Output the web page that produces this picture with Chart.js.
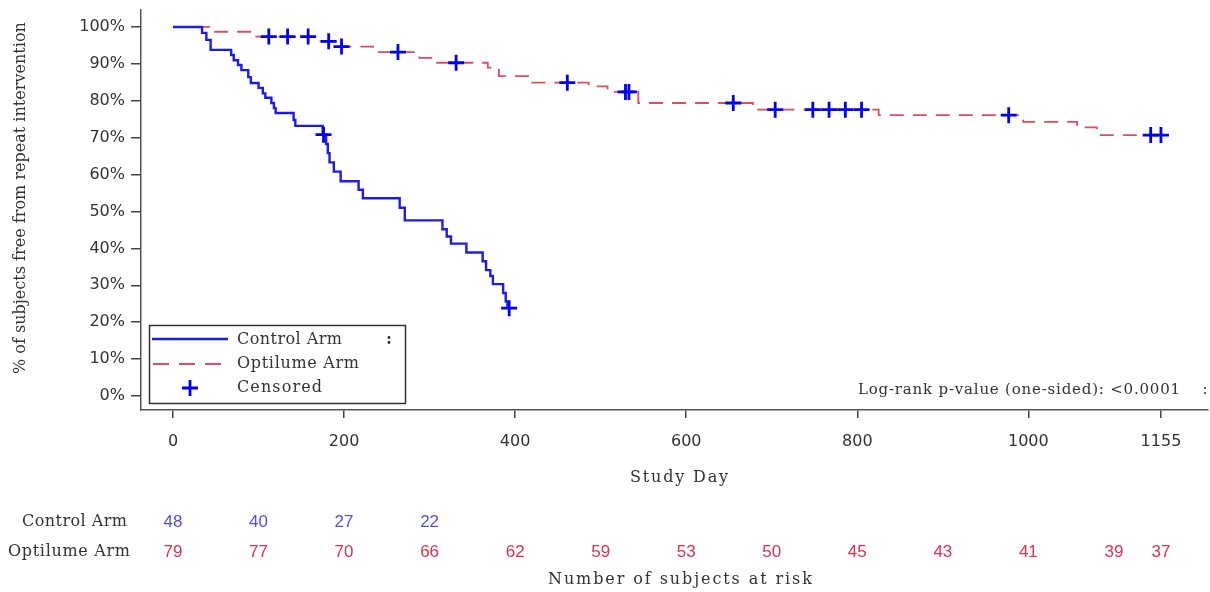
<!DOCTYPE html>
<html><head><meta charset="utf-8">
<script src="https://cdn.jsdelivr.net/npm/chart.js@4/dist/chart.umd.min.js"></script>
<style>html,body{margin:0;padding:0;background:#fff;overflow:hidden}#wrap{width:1210px;height:592px;position:relative}</style>
</head><body><div id="wrap"><canvas id="c" width="1210" height="592"></canvas></div>
<script>
// ---- data ----
const controlDays = [0,34,39,44,68,71,76,80,88,91,100,105,108,115,118,120,141,143,175,179,181,183,188,196,217,222,265,271,315,320,325,343,362,366,371,374,386,389,391,393];
const controlSurv = [100,98.4,96.5,93.8,92.4,91.0,89.7,88.3,86.4,84.8,83.5,82.0,80.8,79.4,78.0,76.7,74.8,73.2,70.8,68.3,65.8,63.3,60.8,58.2,55.9,53.6,51.0,47.6,45.2,43.2,41.3,38.9,36.5,34.1,32.5,30.3,27.9,25.6,23.8,23.8];
const controlCensorDays = [176,393];

const optDays = [0,47,93,169,197,234,288,302,368,381,415,486,508,544,678,825,994,1057,1080,1155];
const optSurv = [100,98.7,97.4,96.1,94.7,93.2,91.6,90.3,89.0,86.7,84.9,83.9,82.4,79.4,77.6,76.1,74.3,72.8,70.7,70.7];
const optCensorDays = [112,134,158,182,197,263,331,461,529,533,655,704,748,767,786,805,977,1143,1155];

const xTickValues = [0,200,400,600,800,1000,1155];
const yTickValues = [0,10,20,30,40,50,60,70,80,90,100];

const riskDays = [0,100,200,300,400,500,600,700,800,900,1000,1100,1155];
const controlRisk = [48,40,27,22];
const optRisk = [79,77,70,66,62,59,53,50,45,43,41,39,37];

const seriesNames = ['Control Arm','Optilume Arm','Censored'];
const riskTitle = 'Number of subjects at risk';
const xTitle = 'Study Day';
const yTitle = '% of subjects free from repeat intervention';
const pText = 'Log-rank p-value (one-sided): <0.0001';

// ---- helpers ----
function stepAt(days, surv, t){ let v = surv[0]; for(let i=0;i<days.length;i++){ if(days[i]<=t) v=surv[i]; } return v; }
const toPts = (d,s)=>d.map((x,i)=>({x:x,y:s[i]}));
const censorPts = controlCensorDays.map(t=>({x:t,y:stepAt(controlDays,controlSurv,t)}))
  .concat(optCensorDays.map(t=>({x:t,y:stepAt(optDays,optSurv,t)})));

const BLUE='#1c1ce8', RED='#e04a62', CBLUE='#0000f5', TXT='#333';
const SERIF='"DejaVu Serif", "Liberation Serif", serif';

function fitText(ctx, text, left, y, width, font){
  ctx.save();
  ctx.font = font;
  ctx.letterSpacing = '0px';
  const w = ctx.measureText(text).width;
  const ls = text.length>1 ? (width - w)/(text.length-1) : 0;
  ctx.letterSpacing = ls.toFixed(2)+'px';
  ctx.textAlign='left'; ctx.textBaseline='middle';
  ctx.fillText(text, left, y);
  ctx.restore();
}

const extras = {
  id:'extras',
  afterDraw(chart){
    const ctx = chart.ctx, xs = chart.scales.x;
    ctx.save();
    ctx.fillStyle = TXT;
    // y title
    ctx.save();
    ctx.translate(21, 198);
    ctx.rotate(-Math.PI/2);
    fitText(ctx, yTitle, -176, 0, 352, '16px '+SERIF);
    ctx.restore();
    // x title
    fitText(ctx, xTitle, 630, 478, 98, '16px '+SERIF);
    // risk table
    fitText(ctx, seriesNames[0], 22, 522, 105, '16px '+SERIF);
    fitText(ctx, seriesNames[1], 8, 552, 122, '16px '+SERIF);
    ctx.font = '17px "Liberation Sans Narrow", "Liberation Sans", sans-serif';
    ctx.textAlign='center'; ctx.textBaseline='middle';
    ctx.fillStyle = '#5050e6';
    controlRisk.forEach((v,i)=>ctx.fillText(String(v), xs.getPixelForValue(riskDays[i]), 522));
    ctx.fillStyle = '#e0304e';
    optRisk.forEach((v,i)=>ctx.fillText(String(v), xs.getPixelForValue(riskDays[i]), 552));
    ctx.fillStyle = TXT;
    fitText(ctx, riskTitle, 548, 580, 264, '16px '+SERIF);
    // p-value
    fitText(ctx, pText, 858, 390, 322, '15px '+SERIF);
    ctx.font = '15px '+SERIF; ctx.textAlign='center'; ctx.textBaseline='middle';
    ctx.fillText(':', 1205, 390);
    // legend box
    ctx.strokeStyle = '#333'; ctx.lineWidth = 1.5;
    ctx.strokeRect(149.5, 325.5, 256, 78);
    ctx.lineWidth = 2.5; ctx.strokeStyle = BLUE;
    ctx.beginPath(); ctx.moveTo(152,339); ctx.lineTo(228,339); ctx.stroke();
    ctx.lineWidth = 1.8; ctx.strokeStyle = RED; ctx.setLineDash([16,10]);
    ctx.beginPath(); ctx.moveTo(153,364); ctx.lineTo(228,364); ctx.stroke();
    ctx.setLineDash([]);
    ctx.lineWidth = 2.8; ctx.strokeStyle = CBLUE;
    ctx.beginPath(); ctx.moveTo(182,388); ctx.lineTo(198,388); ctx.moveTo(190,380); ctx.lineTo(190,396); ctx.stroke();
    ctx.fillStyle = TXT;
    fitText(ctx, seriesNames[0], 237, 340, 105, '16px '+SERIF);
    fitText(ctx, seriesNames[1], 237, 364, 122, '16px '+SERIF);
    fitText(ctx, seriesNames[2], 237, 388, 85, '16px '+SERIF);
    ctx.font = 'bold 16px '+SERIF; ctx.textAlign='center'; ctx.textBaseline='middle';
    ctx.fillText(':', 389, 340);
    ctx.restore();
  }
};

new Chart(document.getElementById('c').getContext('2d'), {
  type:'line',
  data:{datasets:[
    {label:seriesNames[2], type:'scatter', data:censorPts, showLine:false, pointStyle:'cross', pointRadius:8, pointHoverRadius:8, borderColor:CBLUE, backgroundColor:CBLUE, borderWidth:2.8, order:0},
    {label:seriesNames[0], data:toPts(controlDays,controlSurv), stepped:true, borderColor:BLUE, borderWidth:2.4, pointRadius:0, fill:false, order:1},
    {label:seriesNames[1], data:toPts(optDays,optSurv), stepped:true, borderColor:RED, borderWidth:1.8, borderDash:[14,9], pointRadius:0, fill:false, order:2}
  ]},
  options:{
    responsive:false, animation:false, events:[],
    layout:{autoPadding:false, padding:{top:10,right:2,left:0,bottom:0}},
    plugins:{legend:{display:false}, tooltip:{enabled:false}},
    scales:{
      x:{type:'linear', min:-37.4, max:1210,
        afterBuildTicks:a=>{a.ticks = xTickValues.map(v=>({value:v}));},
        afterFit:s=>{s.height=182; s.paddingLeft=0; s.paddingRight=0; s.paddingTop=0; s.paddingBottom=0;},
        ticks:{color:TXT, font:{family:'"DejaVu Sans", sans-serif', size:16}, padding:14, maxRotation:0, autoSkip:false, callback:v=>String(v)},
        grid:{drawOnChartArea:false, drawTicks:true, tickLength:8, color:'#444', lineWidth:1.5},
        border:{display:true, color:'#555', width:1.5}},
      y:{type:'linear', min:-3.8, max:104.6,
        afterBuildTicks:a=>{a.ticks = yTickValues.map(v=>({value:v}));},
        afterFit:s=>{s.width=141; s.paddingLeft=0; s.paddingRight=0; s.paddingTop=0; s.paddingBottom=0;},
        ticks:{color:TXT, font:{family:'"DejaVu Sans", sans-serif', size:16}, padding:6, autoSkip:false, callback:v=>v+'%'},
        grid:{drawOnChartArea:false, drawTicks:true, tickLength:10, color:'#444', lineWidth:1.5},
        border:{display:true, color:'#555', width:1.5}}
    }
  },
  plugins:[extras]
});
</script></body></html>
